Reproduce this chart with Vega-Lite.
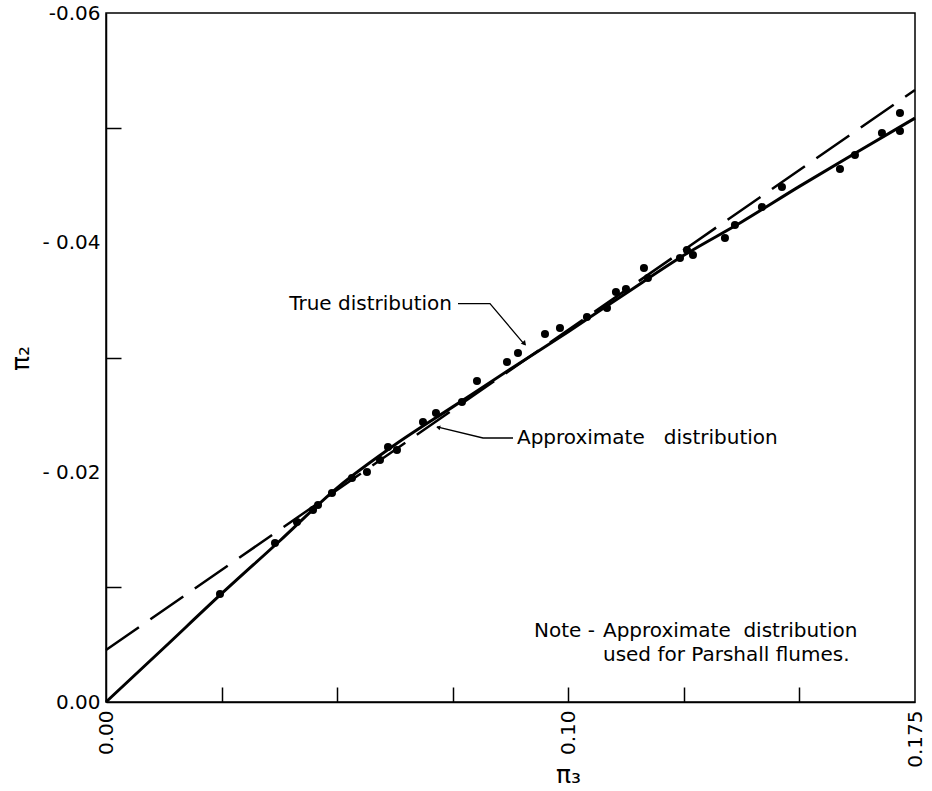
{
  "$schema": "https://vega.github.io/schema/vega-lite/v6.json",
  "width": 809,
  "height": 689,
  "autosize": {"type": "none"},
  "padding": {"left": 106, "top": 13, "right": 17, "bottom": 89},
  "background": "white",
  "config": {
    "font": "DejaVu Sans",
    "view": {"stroke": "black", "strokeWidth": 1.5}
  },
  "datasets": {
    "points": [
      {"x": 0.02466, "y": -0.00940}, {"x": 0.03656, "y": -0.01385}, {"x": 0.04131, "y": -0.01567},
      {"x": 0.04478, "y": -0.01672}, {"x": 0.04586, "y": -0.01715}, {"x": 0.04888, "y": -0.01820},
      {"x": 0.05321, "y": -0.01951}, {"x": 0.05645, "y": -0.02003}, {"x": 0.05927, "y": -0.02107},
      {"x": 0.06100, "y": -0.02221}, {"x": 0.06294, "y": -0.02194}, {"x": 0.06857, "y": -0.02438},
      {"x": 0.07138, "y": -0.02517}, {"x": 0.07700, "y": -0.02612}, {"x": 0.08025, "y": -0.02795},
      {"x": 0.08674, "y": -0.02961}, {"x": 0.08912, "y": -0.03039}, {"x": 0.09496, "y": -0.03205},
      {"x": 0.09820, "y": -0.03257}, {"x": 0.10404, "y": -0.03353}, {"x": 0.10837, "y": -0.03431},
      {"x": 0.11031, "y": -0.03570}, {"x": 0.11248, "y": -0.03596}, {"x": 0.11637, "y": -0.03779},
      {"x": 0.11723, "y": -0.03692}, {"x": 0.12416, "y": -0.03866}, {"x": 0.12567, "y": -0.03936},
      {"x": 0.12697, "y": -0.03892}, {"x": 0.13389, "y": -0.04041}, {"x": 0.13605, "y": -0.04154},
      {"x": 0.14189, "y": -0.04310}, {"x": 0.14622, "y": -0.04485}, {"x": 0.15877, "y": -0.04641},
      {"x": 0.16201, "y": -0.04763}, {"x": 0.16785, "y": -0.04955}, {"x": 0.17175, "y": -0.04972},
      {"x": 0.17175, "y": -0.05129}
    ],
    "trueCurve": [
      {"x": 0, "y": 0}, {"x": 0.0125, "y": -0.00470}, {"x": 0.0247, "y": -0.00932},
      {"x": 0.0375, "y": -0.01400}, {"x": 0.05, "y": -0.01865}, {"x": 0.0625, "y": -0.02240},
      {"x": 0.075, "y": -0.02570}, {"x": 0.0875, "y": -0.02900}, {"x": 0.10, "y": -0.03225},
      {"x": 0.1125, "y": -0.03560}, {"x": 0.125, "y": -0.03890}, {"x": 0.1375, "y": -0.04180},
      {"x": 0.15, "y": -0.04490}, {"x": 0.1625, "y": -0.04790}, {"x": 0.175, "y": -0.05085}
    ],
    "approx": [
      {"x": 0, "y": -0.00453}, {"x": 0.175, "y": -0.0533}
    ],
    "leaders": [
      {"id": "t", "ord": 1, "x": 0.07614, "y": -0.0347},
      {"id": "t", "ord": 2, "x": 0.08306, "y": -0.0347},
      {"id": "t", "ord": 3, "x": 0.09060, "y": -0.03110},
      {"id": "a", "ord": 1, "x": 0.07161, "y": -0.02395},
      {"id": "a", "ord": 2, "x": 0.08155, "y": -0.02299},
      {"id": "a", "ord": 3, "x": 0.08804, "y": -0.02299}
    ],
    "arrowT": [{"x": 0.09041, "y": -0.03126}],
    "arrowA": [{"x": 0.07200, "y": -0.02390}],
    "labelsRight": [
      {"x": 0.07484, "y": -0.0347, "text": "True distribution"},
      {"x": 0.10577, "y": -0.00618, "text": "Note -"}
    ],
    "labelsLeft": [
      {"x": 0.0889, "y": -0.02299, "text": "Approximate\u00a0\u00a0 distribution"},
      {"x": 0.1075, "y": -0.00618, "text": "Approximate\u00a0 distribution"},
      {"x": 0.1075, "y": -0.00409, "text": "used for Parshall flumes."}
    ]
  },
  "layer": [
    {
      "data": {"name": "trueCurve"},
      "mark": {"type": "line", "color": "black", "strokeWidth": 3, "interpolate": "monotone"},
      "encoding": {
        "x": {
          "field": "x", "type": "quantitative",
          "scale": {"domain": [0, 0.175], "nice": false, "zero": false},
          "axis": {
            "values": [0, 0.025, 0.05, 0.075, 0.1, 0.125, 0.15, 0.175],
            "labelExpr": "datum.value == 0 ? '0.00' : (abs(datum.value - 0.1) < 1e-9 ? '0.10' : (abs(datum.value - 0.175) < 1e-9 ? '0.175' : ''))",
            "labelAngle": 270,
            "labelFontSize": 20,
            "labelColor": "black",
            "labelPadding": 23,
            "labelFlush": false,
            "labelOverlap": false,
            "tickSize": -15,
            "tickColor": "black",
            "tickWidth": 1.5,
            "tickOpacity": {"condition": {"test": "datum.value == 0 || datum.value > 0.174", "value": 0}, "value": 1},
            "domainColor": "black",
            "domainWidth": 1.5,
            "grid": false,
            "title": "π₃",
            "titleFontSize": 25,
            "titleFontWeight": "normal",
            "titleColor": "black",
            "titleX": 462,
            "titleY": 72,
            "titleBaseline": "middle"
          }
        },
        "y": {
          "field": "y", "type": "quantitative",
          "scale": {"domain": [0, -0.06], "nice": false, "zero": false},
          "axis": {
            "values": [0, -0.01, -0.02, -0.03, -0.04, -0.05, -0.06],
            "labelExpr": "datum.value == 0 ? '0.00' : (round(datum.value * 100) == -6 ? '-' + format(-datum.value, '.2f') : (round(datum.value * 100) % 2 == 0 ? '- ' + format(-datum.value, '.2f') : ''))",
            "labelFontSize": 20,
            "labelColor": "black",
            "labelPadding": 21,
            "labelFlush": false,
            "labelOverlap": false,
            "tickSize": -15,
            "tickColor": "black",
            "tickWidth": 1.5,
            "tickOpacity": {"condition": {"test": "round(datum.value * 100) % 2 == 0", "value": 0}, "value": 1},
            "domainColor": "black",
            "domainWidth": 1.5,
            "grid": false,
            "title": "π₂",
            "titleFontSize": 25,
            "titleFontWeight": "normal",
            "titleColor": "black",
            "titleAngle": 270,
            "titleX": -86,
            "titleY": 345,
            "titleAlign": "center",
            "titleBaseline": "middle"
          }
        },
        "order": {"field": "x", "type": "quantitative"}
      }
    },
    {
      "data": {"name": "approx"},
      "mark": {"type": "line", "color": "black", "strokeWidth": 2.5, "strokeDash": [40, 14]},
      "encoding": {
        "x": {"field": "x", "type": "quantitative"},
        "y": {"field": "y", "type": "quantitative"}
      }
    },
    {
      "data": {"name": "points"},
      "mark": {"type": "circle", "color": "black", "size": 65, "opacity": 1},
      "encoding": {
        "x": {"field": "x", "type": "quantitative"},
        "y": {"field": "y", "type": "quantitative"}
      }
    },
    {
      "data": {"name": "leaders"},
      "mark": {"type": "line", "color": "black", "strokeWidth": 1.3},
      "encoding": {
        "x": {"field": "x", "type": "quantitative"},
        "y": {"field": "y", "type": "quantitative"},
        "detail": {"field": "id"},
        "order": {"field": "ord", "type": "quantitative"}
      }
    },
    {
      "data": {"name": "arrowT"},
      "mark": {"type": "point", "shape": "triangle", "filled": true, "color": "black", "size": 30, "angle": 139, "opacity": 1},
      "encoding": {
        "x": {"field": "x", "type": "quantitative"},
        "y": {"field": "y", "type": "quantitative"}
      }
    },
    {
      "data": {"name": "arrowA"},
      "mark": {"type": "point", "shape": "triangle", "filled": true, "color": "black", "size": 22, "angle": 283, "opacity": 1},
      "encoding": {
        "x": {"field": "x", "type": "quantitative"},
        "y": {"field": "y", "type": "quantitative"}
      }
    },
    {
      "data": {"name": "labelsRight"},
      "mark": {"type": "text", "align": "right", "baseline": "middle", "fontSize": 20, "color": "black"},
      "encoding": {
        "x": {"field": "x", "type": "quantitative"},
        "y": {"field": "y", "type": "quantitative"},
        "text": {"field": "text"}
      }
    },
    {
      "data": {"name": "labelsLeft"},
      "mark": {"type": "text", "align": "left", "baseline": "middle", "fontSize": 20, "color": "black"},
      "encoding": {
        "x": {"field": "x", "type": "quantitative"},
        "y": {"field": "y", "type": "quantitative"},
        "text": {"field": "text"}
      }
    }
  ]
}
